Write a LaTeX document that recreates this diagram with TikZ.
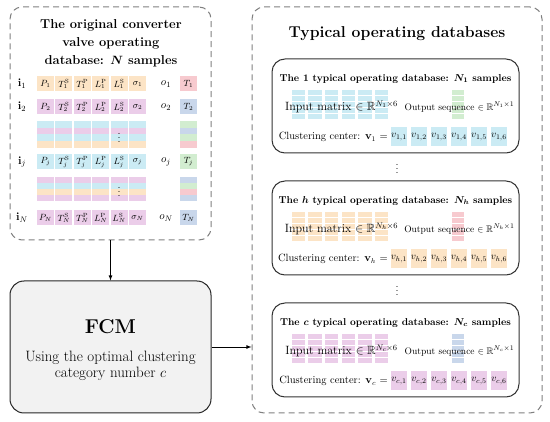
\documentclass[tikz,border=0pt]{standalone}
\usepackage{amsmath}
\usepackage{amssymb}
\usepackage{tikz}
\usetikzlibrary{positioning}
\usetikzlibrary{shapes,arrows}

\definecolor{cOr}{HTML}{FCE4C6}
\definecolor{cPu}{HTML}{EBCDE9}
\definecolor{cCy}{HTML}{CBEBF4}
\definecolor{cPk}{HTML}{F7CACF}
\definecolor{cLv}{HTML}{C9D7EB}
\definecolor{cGr}{HTML}{D2EDD0}
\definecolor{cFc}{HTML}{F2F2F2}

\tikzset{
  cell/.style={minimum width=17pt,minimum height=15pt,inner sep=0pt,font=\fontsize{9}{10}\selectfont},
  vcell/.style={minimum width=15.5pt,minimum height=19pt,inner sep=0pt,font=\fontsize{10}{11}\selectfont},
  lab/.style={inner sep=0pt,font=\fontsize{11}{12}\selectfont},
  dbox/.style={draw=black!50,dash pattern=on 6pt off 4pt,rounded corners=12pt,line width=1pt,inner sep=0pt},
  tbox/.style={draw=black!80,rounded corners=13pt,line width=1pt,inner sep=0pt},
  fcmbox/.style={draw=black!85,fill=cFc,rounded corners=14pt,line width=1pt,inner sep=0pt},
  btitle/.style={inner sep=0pt,font=\fontsize{10}{12}\selectfont\bfseries\boldmath},
  intext/.style={inner sep=0pt,font=\fontsize{12}{13}\selectfont},
  outtext/.style={inner sep=0pt,font=\fontsize{9.5}{10}\selectfont},
  cltext/.style={inner sep=0pt,font=\fontsize{10.5}{12}\selectfont}
}

\begin{document}
\begin{tikzpicture}[x=1pt,y=-1pt]
  \useasboundingbox (0,0) rectangle (550,422);
  \node[dbox,minimum width=201pt,minimum height=233pt] (odb) at (110.5,123.5) {};
  \node[align=center,font=\fontsize{12.9}{18}\selectfont\bfseries\boldmath] (ttl) at (111,43)
    {The original converter\\valve operating\\database: $N$ samples};
  \foreach \yy/\hh/\cl/\ocl in {121/6.75/cCy/cGr,127.75/6.75/cPu/cLv,134.5/6.75/cCy/cGr,141.25/6.75/cOr/cPk,
      177/6/cPu/cLv,183/6/cCy/cGr,189/6/cOr/cPk,195/6/cPu/cLv}{
    \foreach \x in {45.5,63.9,82.3,100.7,119.1,137.5}
      \fill[\cl] ({\x-8.5},\yy) rectangle ++(17,\hh);
    \fill[\ocl] (180,\yy) rectangle ++(17,\hh);
  }
  \node[lab] (dl1) at (119.1,134.5) {$\vdots$};
  \node[lab] (dl2) at (119.1,189) {$\vdots$};
  \foreach \r/\y/\c/\oc in {1/84/cOr/cPk,2/107/cPu/cLv,j/162/cCy/cGr,N/218/cPu/cLv}{
    \node[lab] (i\r) at (22,\y) {$\mathbf{i}_{\r}$};
    \node[cell,fill=\c] (p\r) at (45.5,\y) {$P_{\r}$};
    \node[cell,fill=\c] (ts\r) at (63.9,\y) {$T_{\r}^{\mathrm{S}}$};
    \node[cell,fill=\c] (tp\r) at (82.3,\y) {$T_{\r}^{\mathrm{P}}$};
    \node[cell,fill=\c] (lp\r) at (100.7,\y) {$L_{\r}^{\mathrm{P}}$};
    \node[cell,fill=\c] (ls\r) at (119.1,\y) {$L_{\r}^{\mathrm{S}}$};
    \node[cell,fill=\c] (sg\r) at (137.5,\y) {$\sigma_{\r}$};
    \node[lab] (o\r) at (166,\y) {$o_{\r}$};
    \node[cell,fill=\oc] (t\r) at (188.5,\y) {$T_{\r}$};
  }

  \node[fcmbox,minimum width=201pt,minimum height=132pt] (fcm) at (110.5,347) {};
  \node[font=\fontsize{20}{22}\selectfont\bfseries] (fcmt) at (110.5,327) {FCM};
  \node[align=center,font=\fontsize{15}{16.5}\selectfont] (fcmd) at (110.5,366)
    {Using the optimal clustering\\category number $c$};

  \node[dbox,minimum width=290pt,minimum height=406pt] (tdb) at (397,210) {};
  \node[font=\fontsize{15.7}{18}\selectfont\bfseries] (ttr) at (397,34) {Typical operating databases};
  \foreach \b/\T/\cl/\ocl in {1/59/cCy/cGr,h/181/cOr/cPk,c/303/cPu/cLv}{
    \node[tbox,minimum width=247pt,minimum height=94pt] (db\b) at (395.5,{\T+47}) {};
    \node[btitle] (tt\b) at (395.5,{\T+20}) {The $\b$ typical operating database: $N_{\b}$ samples};
    \foreach \x in {298.5,315.1,331.7,348.3,364.9,381.5}
      \foreach \k in {0,...,4}
        \fill[\cl] ({\x-6.75},{\T+31+5.9*\k}) rectangle ++(13.5,5.1);
    \foreach \k in {0,...,4}
      \fill[\ocl] (451.75,{\T+31+5.9*\k}) rectangle ++(12.5,5.1);
    \node[intext] (in\b) at (341.5,{\T+48}) {Input matrix $\in\mathbb{R}^{N_{\b}\times 6}$};
    \node[outtext] (out\b) at (459.5,{\T+48}) {Output sequence $\in\mathbb{R}^{N_{\b}\times 1}$};
    \node[cltext,anchor=east] (cl\b) at (388,{\T+78}) {Clustering center: $\mathbf{v}_{\b}$ =};
    \foreach \k in {1,...,6}
      \node[vcell,fill=\cl] (v\b\k) at ({379+20*\k},{\T+78}) {$v_{\b,\k}$};
  }
  \node[lab] (rd1) at (397,166) {$\vdots$};
  \node[lab] (rd2) at (397,288) {$\vdots$};

  \draw[-latex,line width=0.8pt] (odb) -- (fcm);
  \draw[-latex,line width=0.8pt] (fcm.east) -- (fcm.east -| tdb.west);
\end{tikzpicture}
\end{document}
